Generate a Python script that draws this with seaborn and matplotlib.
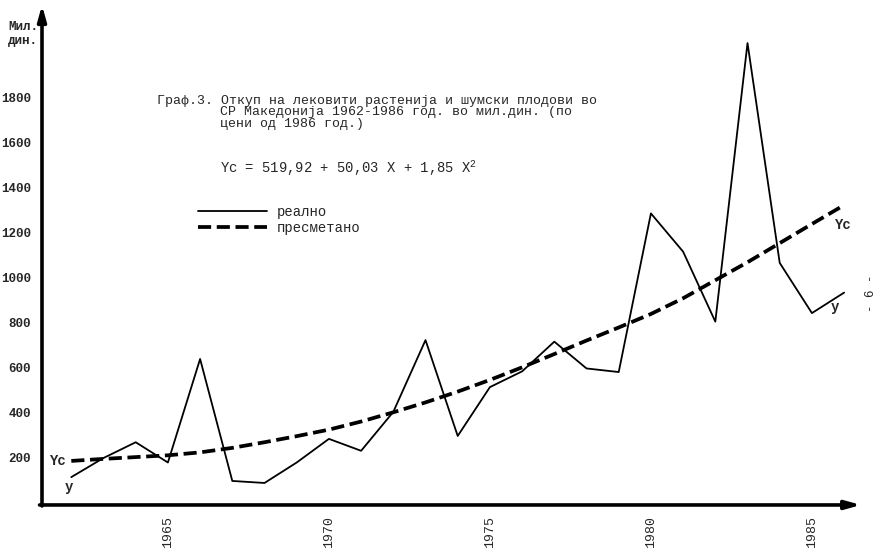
import matplotlib
matplotlib.use('Agg')
import matplotlib.pyplot as plt
import numpy as np
import pandas as pd
import seaborn as sns

# data (мил. дин.)
years = list(range(1962, 1987))
real = [115, 200, 270, 180, 640, 98, 89, 180, 285, 232, 405, 724, 298, 515,
        585, 717, 598, 582, 1287, 1117, 806, 2044, 1067, 844, 935]
calc = [187, 196, 204, 212, 225, 245, 270, 297, 326, 362, 403, 447, 495, 547,
        603, 662, 722, 780, 840, 910, 990, 1070, 1155, 1240, 1324]
xticks = [1965, 1970, 1975, 1980, 1985]
yticks = [200, 400, 600, 800, 1000, 1200, 1400, 1600, 1800, 2000]
ylabels = ['200', '400', '600', '800', '1000', '1200', '1400', '1600', '1800', '']
labels = ['реално', 'пресметано']

title_lines = ['Граф.3. Откуп на лековити растенија и шумски плодови во',
               'СР Македонија 1962-1986 год. во мил.дин. (по',
               'цени од 1986 год.)']
equation = 'Yc = 519,92 + 50,03 X + 1,85 X$^2$'

df = pd.DataFrame({'year': years, 'real': real, 'calc': calc})

sns.set_style('white')
plt.rcParams['font.family'] = ['Liberation Mono', 'DejaVu Sans Mono']
plt.rcParams['mathtext.fontset'] = 'custom'
plt.rcParams['mathtext.rm'] = 'Liberation Mono'

W, H = 877, 556
fig = plt.figure(figsize=(W / 100, H / 100), dpi=100)
ax = fig.add_axes([42 / W, (H - 503) / H, (857 - 42) / W, (503 - 10) / H])

sns.lineplot(data=df, x='year', y='real', color='black', lw=1.3, ax=ax, label=labels[0])
sns.lineplot(data=df, x='year', y='calc', color='black', lw=2.7, ax=ax, label=labels[1],
             linestyle=(0, (3.5, 1.5)))

ax.set_xlim(1961.09, 1986.40)
ax.set_ylim(0, 2191)
for s in ax.spines.values():
    s.set_visible(False)

# axes drawn as arrows
arr = dict(arrowstyle='-|>,head_length=0.9,head_width=0.25', lw=2.6, color='black',
           shrinkA=0, shrinkB=0)
ax.annotate('', xy=(1.005, -0.004), xytext=(-0.003, -0.004), xycoords='axes fraction', arrowprops=arr)
ax.annotate('', xy=(0, 1.01), xytext=(0, -0.006), xycoords='axes fraction', arrowprops=arr)

ax.set_yticks(yticks, ylabels)
ax.set_xticks(xticks, [str(y) for y in xticks], rotation=90)
ax.set_xticks(years, minor=True)
ax.tick_params(axis='y', direction='in', length=4, width=1.6, pad=8, labelsize=9)
ax.tick_params(axis='x', which='major', direction='in', length=4, width=1.2, pad=9, labelsize=9.5)
ax.tick_params(axis='x', which='minor', direction='in', length=2.5, width=1.0)
for t in ax.get_yticklabels():
    t.set_fontweight('bold')
ax.set_xlabel('')
ax.set_ylabel('')

fig.text(8 / W, 1 - 34 / H, 'Мил.\nдин.', fontsize=9, fontweight='bold',
         ha='left', va='center', linespacing=1.15)

# title, typed line by line (baselines)
fig.text(157 / W, 1 - 104 / H, title_lines[0], fontsize=9.5, ha='left', va='baseline')
fig.text(220 / W, 1 - 115.5 / H, title_lines[1], fontsize=9.5, ha='left', va='baseline')
fig.text(220 / W, 1 - 127 / H, title_lines[2], fontsize=9.5, ha='left', va='baseline')
fig.text(220 / W, 1 - 168 / H, equation, fontsize=10, ha='left', va='center')

h, l = ax.get_legend_handles_labels()
ax.legend(h, l, loc='upper left', bbox_to_anchor=(198 / W, 1 - 205 / H),
          bbox_transform=fig.transFigure, frameon=False, borderpad=0, borderaxespad=0,
          handlelength=5.0, handletextpad=0.7, labelspacing=0.15, fontsize=10)

# curve labels
ax.annotate('Yc', xy=(years[0], calc[0]), xytext=(-4, 0), textcoords='offset points',
            ha='right', va='center', fontsize=10, fontweight='bold')
ax.annotate('y', xy=(years[0], real[0]), xytext=(-2, -7), textcoords='offset points',
            ha='center', va='center', fontsize=10, fontweight='bold')
ax.annotate('Yc', xy=(years[-1], calc[-1]), xytext=(-1, -14), textcoords='offset points',
            ha='center', va='center', fontsize=10, fontweight='bold')
ax.annotate('y', xy=(years[-1], real[-1]), xytext=(-7, -10), textcoords='offset points',
            ha='center', va='center', fontsize=10, fontweight='bold')

fig.text(871 / W, 1 - 293 / H, '- 6 -', fontsize=9, rotation=90, ha='center', va='center')

fig.savefig('out.png', dpi=100)
